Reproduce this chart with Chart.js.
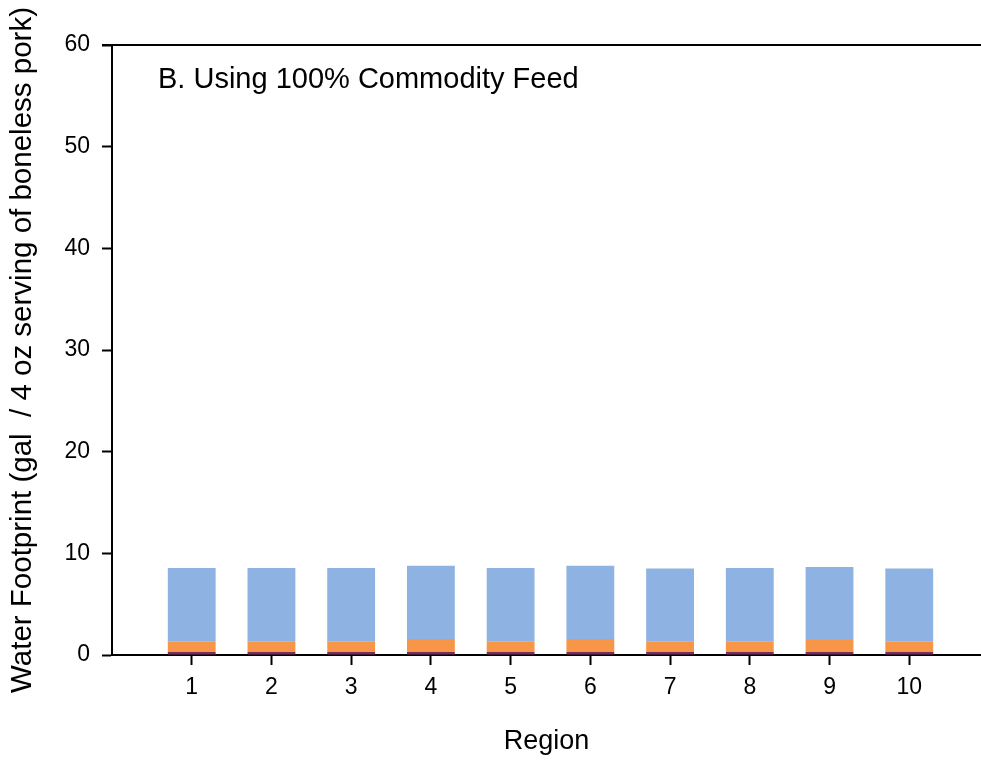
<!DOCTYPE html>
<html>
<head>
<meta charset="utf-8">
<script src="https://cdn.jsdelivr.net/npm/chart.js@4"></script>
<style>
    html, body { margin: 0; padding: 0; background: #fff; overflow: hidden; }
    #wrap { position: relative; width: 981px; height: 761px; }
</style>
</head>
<body>
<div id="wrap"><canvas id="chart" width="981" height="761"></canvas></div>
<script>
    'use strict';

    // values (gal per 4 oz serving)
    const regions = [1, 2, 3, 4, 5, 6, 7, 8, 9, 10];
    const purpleLayer = [0.3, 0.3, 0.3, 0.3, 0.3, 0.3, 0.3, 0.3, 0.3, 0.3];
    const orangeLayer = [1.05, 1.05, 1.05, 1.27, 1.05, 1.27, 1.05, 1.05, 1.17, 1.05];
    const blueLayer = [7.2, 7.2, 7.2, 7.21, 7.2, 7.21, 7.17, 7.2, 7.18, 7.17];
    const yTicks = [0, 10, 20, 30, 40, 50, 60];

    const fontFamily = 'Arial, "Liberation Sans", sans-serif';

    function toPoints(values) {
        return regions.map(function(r, i) {
            return { x: r, y: values[i] };
        });
    }

    const panelLabel = {
        id: 'panelLabel',
        afterDraw: function(chart) {
            const ctx = chart.ctx;
            const area = chart.chartArea;
            ctx.save();
            // top frame line, runs out past the left axis like a tick
            ctx.strokeStyle = '#000';
            ctx.lineWidth = 2;
            ctx.beginPath();
            ctx.moveTo(area.left - 10, area.top);
            ctx.lineTo(area.right, area.top);
            ctx.stroke();

            ctx.fillStyle = '#000';
            ctx.font = '29px ' + fontFamily;
            ctx.textBaseline = 'middle';
            ctx.textAlign = 'left';
            ctx.fillText('B. Using 100% Commodity Feed', area.left + 46, area.top + 35);
            ctx.restore();
        }
    };

    const barStyle = {
        barPercentage: 1,
        categoryPercentage: 0.6,
        borderWidth: 0
    };

    new Chart(document.getElementById('chart'), {
        type: 'bar',
        data: {
            datasets: [
                Object.assign({ label: 'a', data: toPoints(purpleLayer), backgroundColor: '#7A2D5E' }, barStyle),
                Object.assign({ label: 'b', data: toPoints(orangeLayer), backgroundColor: '#F79646' }, barStyle),
                Object.assign({ label: 'c', data: toPoints(blueLayer), backgroundColor: '#8EB3E2' }, barStyle)
            ]
        },
        options: {
            responsive: false,
            animation: false,
            layout: { padding: { top: 45, right: 0, bottom: 0, left: 0 } },
            plugins: {
                legend: { display: false },
                tooltip: { enabled: false }
            },
            scales: {
                x: {
                    type: 'linear',
                    stacked: true,
                    offset: false,
                    min: 0,
                    max: 10.9,
                    afterBuildTicks: function(scale) {
                        scale.ticks = regions.map(function(r) { return { value: r }; });
                    },
                    afterFit: function(scale) { scale.height = 106; },
                    border: { color: '#000', width: 2 },
                    grid: {
                        offset: false,
                        drawOnChartArea: false,
                        tickLength: 10,
                        tickWidth: 2,
                        tickColor: '#000'
                    },
                    ticks: {
                        padding: 9,
                        color: '#000',
                        font: { family: fontFamily, size: 23 }
                    },
                    title: {
                        display: true,
                        text: 'Region',
                        color: '#000',
                        font: { family: fontFamily, size: 27 },
                        padding: { top: 0, bottom: 3 }
                    }
                },
                y: {
                    stacked: true,
                    min: 0,
                    max: 60,
                    afterBuildTicks: function(scale) {
                        scale.ticks = yTicks.map(function(v) { return { value: v }; });
                    },
                    afterFit: function(scale) { scale.width = 112; },
                    border: { color: '#000', width: 2 },
                    grid: {
                        drawOnChartArea: false,
                        tickLength: 10,
                        tickWidth: 2,
                        tickColor: '#000'
                    },
                    ticks: {
                        padding: 12,
                        color: '#000',
                        font: { family: fontFamily, size: 23 }
                    },
                    title: {
                        display: true,
                        text: 'Water Footprint (gal  / 4 oz serving of boneless pork)',
                        color: '#000',
                        font: { family: fontFamily, size: 29.5 },
                        padding: { top: 5, bottom: 0 }
                    }
                }
            }
        },
        plugins: [panelLabel]
    });
</script>
</body>
</html>
